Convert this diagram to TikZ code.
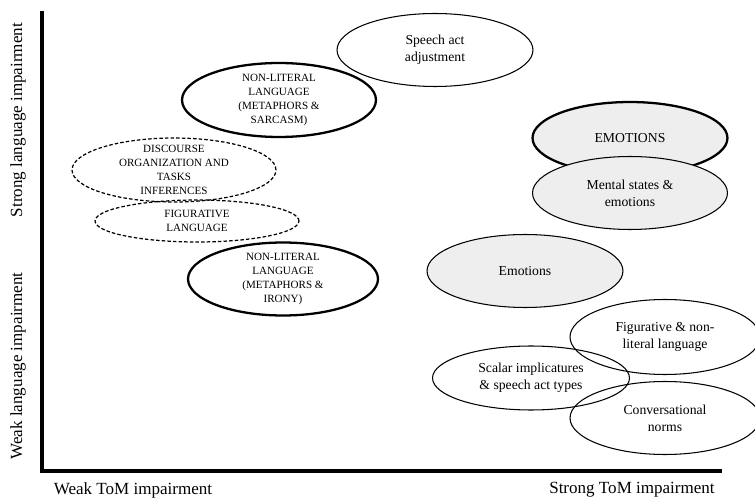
\documentclass[tikz,border=0pt]{standalone}
\usepackage{fontspec}
\setmainfont{Liberation Serif}
\usetikzlibrary{shapes.geometric}
\definecolor{ovalgray}{RGB}{238,238,238}

\begin{document}
\begin{tikzpicture}[
  x=0.02cm, y=-0.02cm,
  axislabel/.style={font=\fontsize{9.7}{11}\selectfont},
  oval/.style={draw,ellipse,line width=0.6pt,inner sep=0pt},
  boldoval/.style={oval,line width=1.3pt},
  dashoval/.style={oval,dashed,dash pattern=on 2pt off 1.2pt,line width=0.7pt},
  grayoval/.style={fill=ovalgray},
  ovaltext/.style={align=center,font=\fontsize{7.8}{9.6}\selectfont},
  capstext/.style={align=center,font=\fontsize{6.3}{8}\selectfont},
]
  \useasboundingbox (0,0) rectangle (755,500);

  % Axes
  \coordinate (origin) at (42,471);
  \coordinate (ytop) at (42,11);
  \coordinate (xend) at (722,471);
  \draw[line width=1.8pt] (ytop) -- (origin) -- (xend);

  % Axis labels
  \node[axislabel,rotate=90] (ystrong) at (18,120) {Strong language impairment};
  \node[axislabel,rotate=90] (yweak) at (18,366) {Weak language impairment};
  \node[axislabel] (xweak) at (133,490) {Weak ToM impairment};
  \node[axislabel] (xstrong) at (632,490) {Strong ToM impairment};

  % Left side
  \node[oval,minimum width=3.92cm,minimum height=1.46cm] (speech) at (435,50) {};
  \node[ovaltext] at (speech) {Speech act\\adjustment};

  \node[boldoval,minimum width=3.88cm,minimum height=1.48cm] (sarcasm) at (279,100) {};
  \node[capstext] at (sarcasm) {NON-LITERAL\\LANGUAGE\\(METAPHORS \&\\SARCASM)};

  \node[dashoval,minimum width=4.08cm,minimum height=1.28cm] (discourse) at (174,170) {};
  \node[capstext] at (discourse) {DISCOURSE\\ORGANIZATION AND\\TASKS\\INFERENCES};

  \node[dashoval,minimum width=4.08cm,minimum height=0.84cm] (figlang) at (197,221) {};
  \node[capstext] at (figlang) {FIGURATIVE\\LANGUAGE};

  \node[boldoval,minimum width=3.8cm,minimum height=1.46cm] (irony) at (283,279) {};
  \node[capstext] at (irony) {NON-LITERAL\\LANGUAGE\\(METAPHORS \&\\IRONY)};

  % Right side
  \node[boldoval,grayoval,minimum width=3.9cm,minimum height=1.44cm] (emocaps) at (630,138) {};
  \node[ovaltext] at (emocaps) {EMOTIONS};

  \node[oval,grayoval,minimum width=3.9cm,minimum height=1.46cm] (mental) at (630,193) {};
  \node[ovaltext] at (mental) {Mental states \&\\emotions};

  \node[oval,grayoval,minimum width=3.92cm,minimum height=1.46cm] (emotions) at (525,271) {};
  \node[ovaltext] at (emotions) {Emotions};

  \node[oval,minimum width=3.8cm,minimum height=1.5cm] (nonlit) at (665,337) {};
  \node[ovaltext] at (nonlit) {Figurative \& non-\\literal language};

  \node[oval,minimum width=3.94cm,minimum height=1.28cm] (scalar) at (531,378) {};
  \node[ovaltext] at (scalar) {Scalar implicatures\\\& speech act types};

  \node[oval,minimum width=3.8cm,minimum height=1.46cm] (norms) at (665,418) {};
  \node[ovaltext] at (norms) {Conversational\\norms};
\end{tikzpicture}
\end{document}
